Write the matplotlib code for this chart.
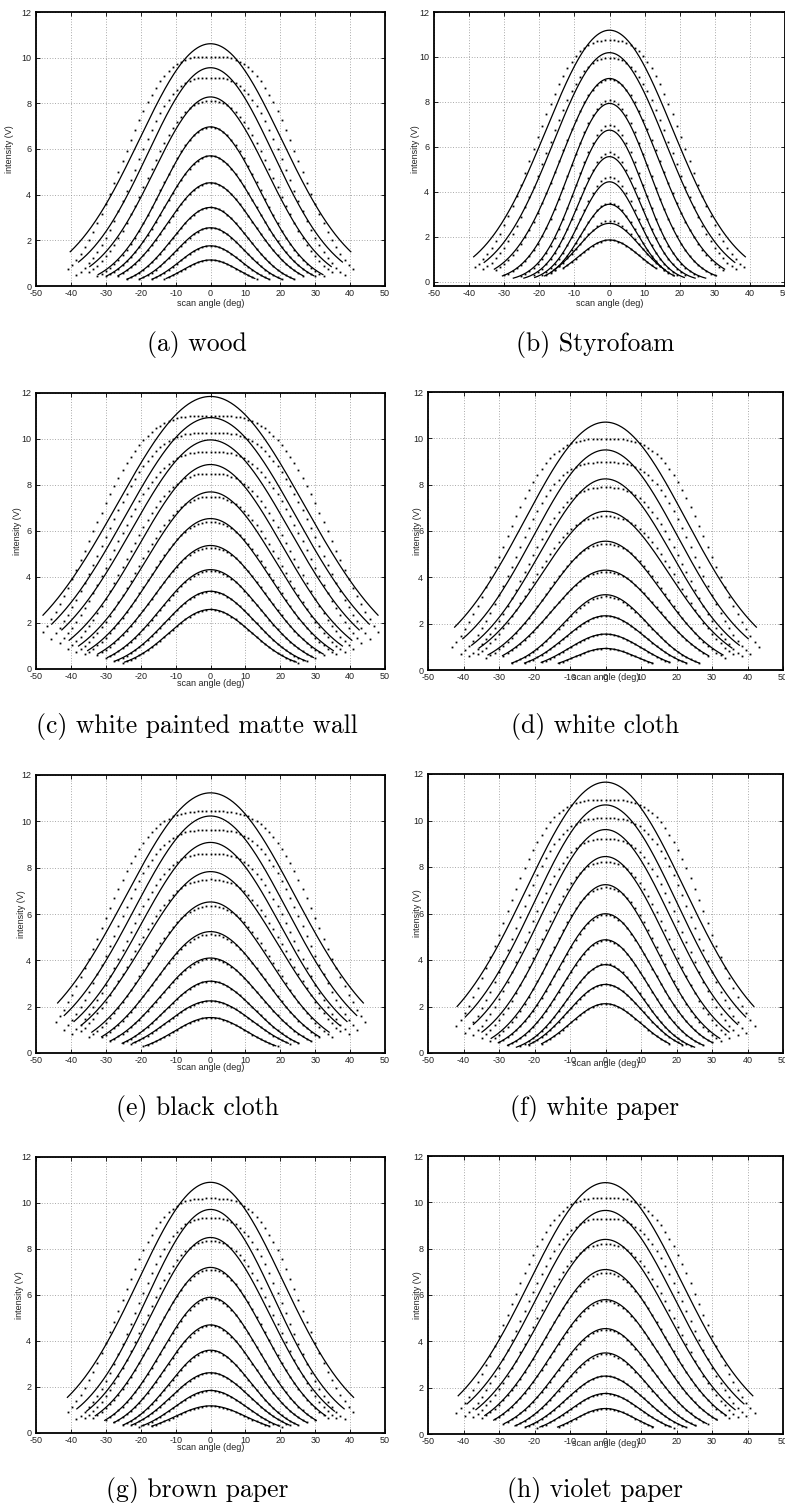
import numpy as np
import matplotlib.pyplot as plt

plt.rcParams['font.family'] = ['Liberation Sans', 'DejaVu Sans']
plt.rcParams['axes.unicode_minus'] = False

FIG_W, FIG_H, DPI = 785, 1503, 100
DOT_STEP = 1.2      # scan step of the measured points (deg)
DOT_FLOOR = 0.25    # weakest reading that still gets plotted (V)
DOT_REACH = 0.8     # how far the scan runs past the fitted span (deg)

# Per surface, one entry per range, largest signal first.
# fit_*: peak intensity (V), half span of the fitted curve (deg), value at its ends (V)
# dot_*: measured peak intensity (V), flatness of the measured profile
wood_fit_peak = [10.61, 9.56, 8.28, 6.97, 5.70, 4.52, 3.44, 2.55, 1.76, 1.14]
wood_fit_half = [40.2, 37.8, 34.6, 32.2, 29.6, 26.5, 23.9, 20.3, 16.7, 12.7]
wood_fit_edge = [1.50, 1.05, 0.85, 0.50, 0.45, 0.45, 0.30, 0.30, 0.30, 0.33]
wood_dot_peak = [10.05, 9.13, 8.09, 6.95, 5.70, 4.52, 3.45, 2.55, 1.77, 1.14]
wood_dot_shape = [3.0, 2.8, 2.4, 2.1, 2.0, 2.0, 2.0, 2.0, 2.0, 2.0]

styro_fit_peak = [11.19, 10.19, 9.04, 7.93, 6.74, 5.56, 4.44, 3.44, 2.59, 1.85]
styro_fit_half = [38.7, 35.7, 32.8, 30.5, 27.4, 24.4, 21.3, 18.5, 16.0, 13.1]
styro_fit_edge = [1.10, 0.85, 0.55, 0.25, 0.15, 0.15, 0.18, 0.25, 0.50, 0.60]
styro_dot_peak = [10.74, 9.96, 9.00, 8.07, 6.96, 5.75, 4.67, 3.51, 2.70, 1.85]
styro_dot_shape = [2.7, 2.4, 2.1, 2.0, 2.0, 2.0, 2.0, 2.0, 2.0, 2.0]

wall_fit_peak = [11.85, 10.93, 9.96, 8.89, 7.70, 6.54, 5.37, 4.32, 3.38, 2.59]
wall_fit_half = [48.0, 45.5, 42.6, 40.5, 37.8, 35.2, 32.3, 29.5, 27.3, 24.6]
wall_fit_edge = [2.34, 1.95, 1.70, 1.25, 1.00, 0.80, 0.65, 0.50, 0.35, 0.30]
wall_dot_peak = [11.02, 10.28, 9.45, 8.50, 7.48, 6.39, 5.27, 4.28, 3.38, 2.59]
wall_dot_shape = [3.2, 3.0, 2.8, 2.6, 2.4, 2.2, 2.1, 2.0, 2.0, 2.0]

wcloth_fit_peak = [10.70, 9.50, 8.25, 6.85, 5.56, 4.31, 3.25, 2.34, 1.55, 0.93]
wcloth_fit_half = [42.5, 40.2, 37.7, 35.6, 33.1, 29.0, 26.4, 22.8, 18.1, 13.3]
wcloth_fit_edge = [1.85, 1.35, 1.07, 0.95, 0.65, 0.62, 0.30, 0.30, 0.33, 0.29]
wcloth_dot_peak = [9.97, 8.97, 7.88, 6.63, 5.44, 4.25, 3.18, 2.34, 1.55, 0.93]
wcloth_dot_shape = [3.2, 3.0, 2.7, 2.5, 2.2, 2.1, 2.0, 2.0, 2.0, 2.0]

bcloth_fit_peak = [11.23, 10.23, 9.09, 7.83, 6.52, 5.24, 4.10, 3.10, 2.25, 1.53]
bcloth_fit_half = [43.8, 41.9, 39.1, 37.0, 34.0, 31.2, 28.7, 25.3, 22.3, 18.7]
bcloth_fit_edge = [2.16, 1.62, 1.36, 1.20, 0.90, 0.70, 0.52, 0.42, 0.42, 0.31]
bcloth_dot_peak = [10.44, 9.63, 8.61, 7.49, 6.33, 5.12, 4.07, 3.10, 2.25, 1.53]
bcloth_dot_shape = [3.2, 3.0, 2.8, 2.5, 2.3, 2.1, 2.0, 2.0, 2.0, 2.0]

wpaper_fit_peak = [11.65, 10.67, 9.61, 8.45, 7.24, 5.99, 4.87, 3.80, 2.95, 2.12]
wpaper_fit_half = [41.8, 39.5, 37.2, 34.8, 32.2, 30.2, 27.6, 25.1, 21.6, 18.0]
wpaper_fit_edge = [2.00, 1.55, 1.23, 0.90, 0.63, 0.44, 0.33, 0.25, 0.36, 0.40]
wpaper_dot_peak = [10.90, 10.10, 9.20, 8.21, 7.13, 5.95, 4.84, 3.84, 2.95, 2.12]
wpaper_dot_shape = [3.2, 3.0, 2.7, 2.4, 2.2, 2.0, 2.0, 2.0, 2.0, 2.0]

bpaper_fit_peak = [10.90, 9.72, 8.50, 7.20, 5.90, 4.70, 3.60, 2.62, 1.85, 1.18]
bpaper_fit_half = [41.0, 38.3, 35.5, 33.0, 30.3, 27.7, 25.0, 22.5, 19.8, 16.8]
bpaper_fit_edge = [1.55, 1.05, 0.95, 0.75, 0.55, 0.45, 0.35, 0.35, 0.30, 0.30]
bpaper_dot_peak = [10.20, 9.35, 8.35, 7.10, 5.85, 4.68, 3.58, 2.62, 1.85, 1.18]
bpaper_dot_shape = [3.0, 2.7, 2.4, 2.1, 2.0, 2.0, 2.0, 2.0, 2.0, 2.0]

vpaper_fit_peak = [10.85, 9.65, 8.40, 7.10, 5.80, 4.55, 3.50, 2.50, 1.75, 1.10]
vpaper_fit_half = [41.5, 39.0, 36.5, 34.0, 31.5, 28.5, 25.5, 22.5, 18.5, 13.5]
vpaper_fit_edge = [1.65, 1.30, 1.05, 0.80, 0.60, 0.45, 0.35, 0.30, 0.30, 0.30]
vpaper_dot_peak = [10.20, 9.30, 8.20, 6.95, 5.75, 4.50, 3.45, 2.50, 1.75, 1.10]
vpaper_dot_shape = [3.0, 2.7, 2.4, 2.1, 2.0, 2.0, 2.0, 2.0, 2.0, 2.0]

captions = ['(a) wood', '(b) Styrofoam', '(c) white painted matte wall', '(d) white cloth',
            '(e) black cloth', '(f) white paper', '(g) brown paper', '(h) violet paper']

surfaces = [
    (wood_fit_peak, wood_fit_half, wood_fit_edge, wood_dot_peak, wood_dot_shape),
    (styro_fit_peak, styro_fit_half, styro_fit_edge, styro_dot_peak, styro_dot_shape),
    (wall_fit_peak, wall_fit_half, wall_fit_edge, wall_dot_peak, wall_dot_shape),
    (wcloth_fit_peak, wcloth_fit_half, wcloth_fit_edge, wcloth_dot_peak, wcloth_dot_shape),
    (bcloth_fit_peak, bcloth_fit_half, bcloth_fit_edge, bcloth_dot_peak, bcloth_dot_shape),
    (wpaper_fit_peak, wpaper_fit_half, wpaper_fit_edge, wpaper_dot_peak, wpaper_dot_shape),
    (bpaper_fit_peak, bpaper_fit_half, bpaper_fit_edge, bpaper_dot_peak, bpaper_dot_shape),
    (vpaper_fit_peak, vpaper_fit_half, vpaper_fit_edge, vpaper_dot_peak, vpaper_dot_shape),
]

# axes box in pixels: left, top, width, height, ylabel offset, xlabel offset, y minimum
layout = [
    (36, 12, 349, 274, 26, 17, 0.0),
    (434, 12, 351, 274, 19, 17, -0.2),
    (36, 393, 349, 276, 18, 14, 0.0),
    (428, 392, 355, 278, 10, 8, 0.0),
    (36, 775, 349, 278, 14, 14, 0.0),
    (428, 774, 355, 279, 11, 11, 0.0),
    (36, 1157, 349, 276, 16, 14, 0.0),
    (428, 1156, 355, 278, 10, 9, 0.0),
]
caption_y = [344, 344, 726, 726, 1108, 1108, 1490, 1490]
caption_x = [197, 595]


def add_axes_px(fig, left, top, width, height):
    return fig.add_axes([left / FIG_W, 1 - (top + height) / FIG_H,
                         width / FIG_W, height / FIG_H])


def draw_panel(ax, fit_peak, fit_half, fit_edge, dot_peak, dot_shape):
    for a, half, edge, pd, p in zip(fit_peak, fit_half, fit_edge, dot_peak, dot_shape):
        sigma = half / np.sqrt(2 * np.log(a / edge))
        th = np.linspace(-half, half, 400)
        ax.plot(th, a * np.exp(-th ** 2 / (2 * sigma ** 2)), color='k', lw=0.9)

        # measured profile: flatter top, meets the fit at a third of its peak
        th_c = sigma * np.sqrt(2 * np.log(3))
        w = th_c / np.log(3 * pd / a) ** (1 / p)
        n = int((half + DOT_REACH) / DOT_STEP)
        ang = np.arange(-n, n + 1) * DOT_STEP
        val = pd * np.exp(-(np.abs(ang) / w) ** p)
        keep = val >= DOT_FLOOR
        ax.plot(ang[keep], val[keep], ls='none', marker='s', ms=1.3, mew=0, color='k')


fig = plt.figure(figsize=(FIG_W / DPI, FIG_H / DPI), dpi=DPI)

for i, (data, box) in enumerate(zip(surfaces, layout)):
    left, top, width, height, ylab_dx, xlab_dy, ymin = box
    ax = add_axes_px(fig, left, top, width, height)
    draw_panel(ax, *data)

    ax.set_xlim(-50, 50)
    ax.set_ylim(ymin, 12)
    ax.set_xticks(range(-50, 51, 10))
    ax.set_yticks(range(0, 13, 2))
    ax.grid(True, color='#8c8c8c', ls=(0, (1, 2.2)), lw=0.6)
    ax.set_axisbelow(True)
    ax.tick_params(direction='in', top=True, right=True, length=3, width=0.6,
                   labelsize=6.5, labelcolor='#222222')
    ax.tick_params(axis='x', pad=2.2)
    ax.tick_params(axis='y', pad=3.5)
    for sp in ax.spines.values():
        sp.set_linewidth(1.3)

    ax.set_xlabel('scan angle (deg)', fontsize=6.5, color='#222222')
    ax.xaxis.label.set_va('center')
    ax.xaxis.set_label_coords(0.5, -xlab_dy / height)
    ax.set_ylabel('intensity (V)', fontsize=6.5, color='#222222')
    ax.yaxis.label.set_va('center')
    ax.yaxis.set_label_coords(-ylab_dx / width, 0.5)

    fig.text(caption_x[i % 2] / FIG_W, 1 - caption_y[i] / FIG_H, captions[i],
             ha='center', va='center', fontsize=18.5, family='cmr10')

fig.savefig('out.png', dpi=DPI)
